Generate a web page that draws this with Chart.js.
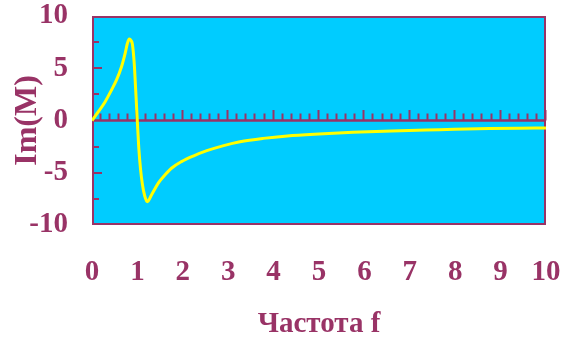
<!DOCTYPE html>
<html>
<head>
<meta charset="utf-8">
<script src="https://cdn.jsdelivr.net/npm/chart.js@4/dist/chart.umd.min.js"></script>
<style>
  html, body { margin: 0; padding: 0; background: #ffffff; }
  #wrap { width: 561px; height: 339px; }
</style>
</head>
<body>
<div id="wrap"><canvas id="c" width="561" height="339"></canvas></div>
<script>
// Frequency samples and the imaginary part of M at each of them
const freq = [0, 0.14, 0.29, 0.43, 0.54, 0.65, 0.73, 0.78, 0.82, 0.86, 0.89, 0.93, 0.97,
              1.0, 1.03, 1.07, 1.11, 1.16, 1.22, 1.31, 1.46, 1.61, 1.75, 1.97, 2.23,
              2.53, 2.9, 3.26, 3.77, 4.3, 5.0, 5.75, 6.6, 7.65, 8.75, 9.4, 10];
const imM  = [0, 0.84, 1.8, 2.92, 3.88, 5.15, 6.43, 7.39, 7.8, 7.65, 7.3, 5.47, 2.28,
              -0.2, -2.6, -4.7, -6.1, -7.2, -7.77, -7.13, -6.0, -5.2, -4.57, -3.94, -3.4,
              -2.89, -2.4, -2.03, -1.71, -1.48, -1.29, -1.13, -1.0, -0.88, -0.76, -0.73, -0.72];

// Axis labels
const xTickLabels = [0, 1, 2, 3, 4, 5, 6, 7, 8, 9, 10];
const yTickLabels = [-10, -5, 0, 5, 10];
const xTitle = 'Частота f';
const yTitle = 'Im(M)';

const ink = '#993366';
const plotFill = '#00CCFF';
const curveColor = '#FFFF00';
const serif = "'Liberation Serif', 'Times New Roman', serif";
const bigFont = { family: serif, size: 29, weight: 'bold', lineHeight: 1 };
const yTitleFont = { family: serif, size: 32, weight: 'bold', lineHeight: 1 };

// Fixed axis thickness; label overhang is left to the layout padding
function fixAxis(size) {
  return s => {
    if (s.isHorizontal()) s.height = size; else s.width = size;
    s.paddingTop = 0; s.paddingBottom = 0; s.paddingLeft = 0; s.paddingRight = 0;
  };
}

// Cyan plot field, framed, with the zero line and its scale marks
const plotFrame = {
  id: 'plotFrame',
  beforeDatasetsDraw(chart) {
    const { ctx, chartArea: a, scales: { x, y } } = chart;
    const w = a.right - a.left, h = a.bottom - a.top;
    ctx.save();
    ctx.fillStyle = plotFill;
    ctx.fillRect(a.left, a.top, w, h);
    ctx.strokeStyle = ink;
    ctx.lineCap = 'butt';

    const y0 = y.getPixelForValue(0);
    ctx.lineWidth = 2.5;
    ctx.beginPath();
    ctx.moveTo(a.left, y0);
    ctx.lineTo(a.right, y0);
    ctx.stroke();

    // marks along the zero line, every 0.2, longer at whole numbers
    ctx.lineWidth = 2;
    ctx.beginPath();
    for (let i = 1; i <= 50; i++) {
      const px = Math.round(x.getPixelForValue(i / 5)) - 0.5;
      const len = (i % 5 === 0) ? 10.5 : 7;
      ctx.moveTo(px, y0);
      ctx.lineTo(px, y0 - len);
    }
    ctx.stroke();

    // marks on the left edge, every 2.5, longer at multiples of 5
    ctx.beginPath();
    for (let j = -3; j <= 3; j++) {
      if (j === 0) continue;
      const py = Math.round(y.getPixelForValue(j * 2.5));
      const len = (j % 2 === 0) ? 10 : 7;
      ctx.moveTo(a.left, py);
      ctx.lineTo(a.left + len, py);
    }
    ctx.stroke();

    ctx.lineWidth = 2;
    ctx.strokeRect(a.left + 1, a.top + 1, w - 2, h - 2);
    ctx.restore();
  }
};

new Chart(document.getElementById('c'), {
  type: 'line',
  data: {
    datasets: [{
      data: freq.map((f, i) => ({ x: f, y: imM[i] })),
      borderColor: curveColor,
      borderWidth: 3,
      pointRadius: 0,
      fill: false,
      cubicInterpolationMode: 'monotone'
    }]
  },
  options: {
    responsive: false,
    animation: false,
    devicePixelRatio: 1,
    layout: { padding: { top: 16, right: 15, left: 0, bottom: 0 } },
    plugins: { legend: { display: false }, tooltip: { enabled: false } },
    scales: {
      x: {
        type: 'linear',
        min: 0, max: 10,
        afterBuildTicks: s => { s.ticks = xTickLabels.map(v => ({ value: v })); },
        afterFit: fixAxis(114),
        grid: { display: false, drawTicks: false },
        border: { display: false },
        ticks: { font: bigFont, color: ink, padding: 33, maxRotation: 0, autoSkip: false },
        title: { display: true, text: xTitle, font: bigFont, color: ink, padding: { top: 0, bottom: 0 } }
      },
      y: {
        type: 'linear',
        min: -10, max: 10,
        afterBuildTicks: s => { s.ticks = yTickLabels.map(v => ({ value: v })); },
        afterFit: fixAxis(92),
        grid: { display: false, drawTicks: false },
        border: { display: false },
        ticks: { font: bigFont, color: ink, padding: 24, autoSkip: false },
        title: { display: true, text: yTitle, font: yTitleFont, color: ink, padding: { top: 12, bottom: 0 } }
      }
    }
  },
  plugins: [plotFrame]
});
</script>
</body>
</html>
